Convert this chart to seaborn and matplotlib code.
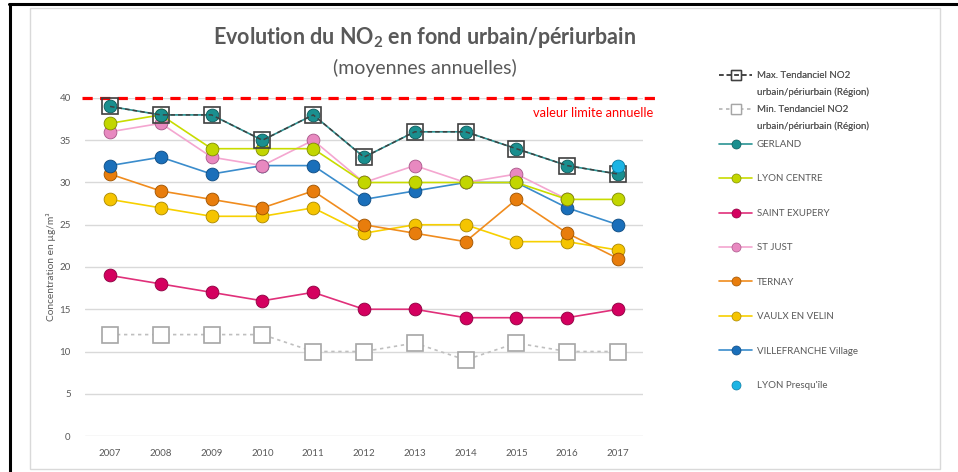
import numpy as np
import pandas as pd
import matplotlib
matplotlib.use("Agg")
import matplotlib.pyplot as plt
import seaborn as sns
from matplotlib.lines import Line2D
from matplotlib.patches import Rectangle

# ---------------- data ----------------
years = [2007, 2008, 2009, 2010, 2011, 2012, 2013, 2014, 2015, 2016, 2017]
max_tend = [39, 38, 38, 35, 38, 33, 36, 36, 34, 32, 31]
min_tend = [12, 12, 12, 12, 10, 10, 11, 9, 11, 10, 10]
gerland = [39, 38, 38, 35, 38, 33, 36, 36, 34, 32, 31]
lyon_centre = [37, 38, 34, 34, 34, 30, 30, 30, 30, 28, 28]
saint_exupery = [19, 18, 17, 16, 17, 15, 15, 14, 14, 14, 15]
st_just = [36, 37, 33, 32, 35, 30, 32, 30, 31, 28, np.nan]
ternay = [31, 29, 28, 27, 29, 25, 24, 23, 28, 24, 21]
vaulx = [28, 27, 26, 26, 27, 24, 25, 25, 23, 23, 22]
villefranche = [32, 33, 31, 32, 32, 28, 29, 30, 30, 27, 25]
lyon_presquile = [np.nan] * 10 + [32]
limit_value = 40
yticks = [0, 5, 10, 15, 20, 25, 30, 35, 40]

labels = {
    "max": ["Max. Tendanciel NO2", "urbain/périurbain (Région)"],
    "min": ["Min. Tendanciel NO2", "urbain/périurbain (Région)"],
    "gerland": "GERLAND",
    "lyon_centre": "LYON CENTRE",
    "saint_exupery": "SAINT EXUPERY",
    "st_just": "ST JUST",
    "ternay": "TERNAY",
    "vaulx": "VAULX EN VELIN",
    "villefranche": "VILLEFRANCHE Village",
    "lyon_presquile": "LYON Presqu'île",
}
series = {
    "max": max_tend, "min": min_tend, "gerland": gerland, "lyon_centre": lyon_centre,
    "saint_exupery": saint_exupery, "st_just": st_just, "ternay": ternay, "vaulx": vaulx,
    "villefranche": villefranche, "lyon_presquile": lyon_presquile,
}

# ---------------- style ----------------
sns.set_theme(style="white")
plt.rcParams["font.family"] = ["Lato", "DejaVu Sans"]
plt.rcParams["mathtext.fontset"] = "custom"
plt.rcParams["mathtext.rm"] = "Lato"
plt.rcParams["mathtext.bf"] = "Lato:bold"
TXT = "#595959"

def circ(line, face, edge):
    return dict(color=line, lw=1.2, dashes=None, marker="o", ms=9.2, mfc=face, mec=edge, mew=0.6)

styles = {
    "max": dict(color="#404040", lw=1.1, dashes=(3, 2), marker="s", ms=11, mfc="none",
                mec="#404040", mew=1.2),
    "min": dict(color="#bfbfbf", lw=1.2, dashes=(2, 2.2), marker="s", ms=11, mfc="white",
                mec="#a6a6a6", mew=1.2),
    "gerland": circ("#2a9494", "#1a8f8f", "#0b5858"),
    "lyon_centre": circ("#c8dc00", "#c2d600", "#7f8c00"),
    "saint_exupery": circ("#e0307a", "#d4005f", "#8c0040"),
    "st_just": circ("#f4a6d0", "#e889c0", "#a85588"),
    "ternay": circ("#f08c1e", "#e87d0c", "#9c5200"),
    "vaulx": circ("#f7d000", "#f5c400", "#a88600"),
    "villefranche": circ("#3a8ccc", "#1a6fba", "#0d4a80"),
    "lyon_presquile": circ("#1cb4e4", "#1cb4e4", "#0a7aa0"),
}
draw_order = ["min", "saint_exupery", "vaulx", "ternay", "villefranche", "st_just",
              "lyon_centre", "gerland", "max", "lyon_presquile"]

fig = plt.figure(figsize=(9.58, 4.72), dpi=100)
fig.patch.set_facecolor("white")
ax = fig.add_axes([84.6 / 958, 1 - 436 / 472, 558.8 / 958, 338 / 472])

for key in draw_order:
    st = styles[key]
    df = pd.DataFrame({"year": years, "value": series[key]})
    sns.lineplot(data=df, x="year", y="value", ax=ax, color=st["color"], linewidth=st["lw"],
                 marker=st["marker"], markersize=st["ms"], markerfacecolor=st["mfc"],
                 markeredgecolor=st["mec"], markeredgewidth=st["mew"], clip_on=False, zorder=3)
    line = ax.get_lines()[-1]
    if st["dashes"] is not None:
        line.set_dashes(st["dashes"])
    if key == "lyon_presquile":
        line.set_linestyle("none")

# limit line
ax.axhline(limit_value, color="#ff0000", lw=2.3, dashes=(3.2, 2.3), zorder=2, clip_on=False,
           xmin=-0.005, xmax=1.02)
ax.text(1.018, (limit_value - 1.8) / 40, "valeur limite annuelle", transform=ax.transAxes,
        ha="right", va="center", color="#ff0000", fontsize=9.3)

ax.set_xlim(2006.5, 2017.5)
ax.set_ylim(0, 40)
ax.set_xticks(years)
ax.set_xticklabels([str(y) for y in years])
ax.set_yticks(yticks)
ax.grid(axis="y", color="#d9d9d9", lw=1)
ax.grid(axis="x", visible=False)
for s in ax.spines.values():
    s.set_visible(False)
ax.tick_params(axis="both", length=0, labelsize=7, labelcolor=TXT)
ax.tick_params(axis="y", pad=10)
ax.tick_params(axis="x", pad=9)
ax.set_xlabel("")
ax.set_ylabel("Concentration en µg/m³", fontsize=7.3, color=TXT, labelpad=2.5)

# titles
fig.text(425 / 958, 1 - 38 / 472, "Evolution du NO$_\\mathregular{2}$ en fond urbain/périurbain",
         ha="center", va="center", fontsize=15.5, fontweight="bold", color=TXT)
fig.text(425 / 958, 1 - 68 / 472, "(moyennes annuelles)", ha="center", va="center",
         fontsize=14, color=TXT)

# legends
def proxy(key):
    st = styles[key]
    p = Line2D([], [], color=st["color"], lw=st["lw"], marker=st["marker"],
               markersize=6.5, markerfacecolor=st["mfc"], markeredgecolor=st["mec"],
               markeredgewidth=st["mew"] * 0.8)
    if st["dashes"] is not None:
        p.set_dashes(st["dashes"])
    if key == "lyon_presquile":
        p.set_linestyle("none")
    return p

blank = Line2D([], [], color="none")
h1, l1 = [], []
for key in ["max", "min"]:
    h1 += [proxy(key), blank]
    l1 += labels[key]

leg_kw = dict(loc="upper left", frameon=False, fontsize=7, handlelength=3.4,
              handletextpad=0.5, borderpad=0, borderaxespad=0, labelcolor=TXT)
leg1 = fig.legend(h1, l1, bbox_to_anchor=(719 / 958, 1 - 71 / 472), labelspacing=0.79, **leg_kw)
rest = ["gerland", "lyon_centre", "saint_exupery", "st_just", "ternay", "vaulx",
        "villefranche", "lyon_presquile"]
leg2 = fig.legend([proxy(k) for k in rest], [labels[k] for k in rest],
                  bbox_to_anchor=(719 / 958, 1 - 140 / 472), labelspacing=2.62, **leg_kw)
fig.add_artist(leg1)

# frames
fig.add_artist(Rectangle((30 / 958, 1 - 469 / 472), 910 / 958, 461 / 472, transform=fig.transFigure,
                         fill=False, edgecolor="#d9d9d9", lw=1))
fig.add_artist(Line2D([9 / 958, 1], [1 - 4 / 472, 1 - 4 / 472], transform=fig.transFigure,
                      color="black", lw=2.2))
fig.add_artist(Line2D([10 / 958, 10 / 958], [0, 1 - 4 / 472], transform=fig.transFigure,
                      color="black", lw=2.2))

fig.savefig("out.png", dpi=100)
